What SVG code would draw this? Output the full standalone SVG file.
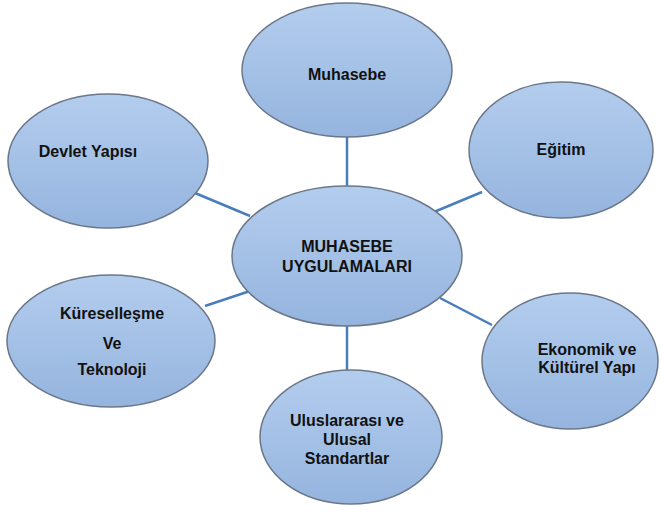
<svg xmlns="http://www.w3.org/2000/svg" width="661" height="518" viewBox="0 0 661 518">
<defs>
<linearGradient id="g" x1="0" y1="0" x2="0" y2="1">
<stop offset="0" stop-color="#b3cdee"/>
<stop offset="1" stop-color="#95b4de"/>
</linearGradient>
</defs>
<style>
.n{fill:url(#g);stroke:#6b7789;stroke-width:1.5}
.t{font-family:"Liberation Sans",Arial,sans-serif;font-weight:bold;font-size:16px;fill:#111;text-anchor:middle}
.c{stroke:#4a7ebb;stroke-width:2.5;fill:none}
</style>
<rect width="661" height="518" fill="#fff"/>
<g id="connectors">
<line class="c" x1="347" y1="137" x2="347" y2="187"/>
<line class="c" x1="195" y1="193" x2="250" y2="216"/>
<line class="c" x1="434" y1="212" x2="482" y2="192"/>
<line class="c" x1="205" y1="306" x2="250" y2="291"/>
<line class="c" x1="440" y1="298" x2="492" y2="325"/>
<line class="c" x1="347" y1="325" x2="347" y2="371"/>
</g>
<g id="muhasebe">
<ellipse class="n" cx="347" cy="70" rx="105" ry="67"/>
<text class="t" x="347" y="80">Muhasebe</text>
</g>
<g id="devlet">
<ellipse class="n" cx="108" cy="161" rx="100" ry="67"/>
<text class="t" x="88" y="157">Devlet Yapısı</text>
</g>
<g id="egitim">
<ellipse class="n" cx="561" cy="150" rx="92" ry="68"/>
<text class="t" x="561" y="155">Eğitim</text>
</g>
<g id="center">
<ellipse class="n" cx="347" cy="256" rx="115" ry="70"/>
<text class="t" x="347" y="252">MUHASEBE</text>
<text class="t" x="347" y="272">UYGULAMALARI</text>
</g>
<g id="kuresellesme">
<ellipse class="n" cx="111" cy="341" rx="104" ry="66"/>
<text class="t" x="112" y="319">Küreselleşme</text>
<text class="t" x="112" y="349">Ve</text>
<text class="t" x="112" y="375">Teknoloji</text>
</g>
<g id="ekonomik">
<ellipse class="n" cx="570" cy="361" rx="88" ry="68"/>
<text class="t" x="587" y="355">Ekonomik ve</text>
<text class="t" x="587" y="373">Kültürel Yapı</text>
</g>
<g id="uluslararasi">
<ellipse class="n" cx="351" cy="437" rx="91" ry="67"/>
<text class="t" x="347" y="426">Uluslararası ve</text>
<text class="t" x="347" y="445">Ulusal</text>
<text class="t" x="347" y="464">Standartlar</text>
</g>
</svg>
